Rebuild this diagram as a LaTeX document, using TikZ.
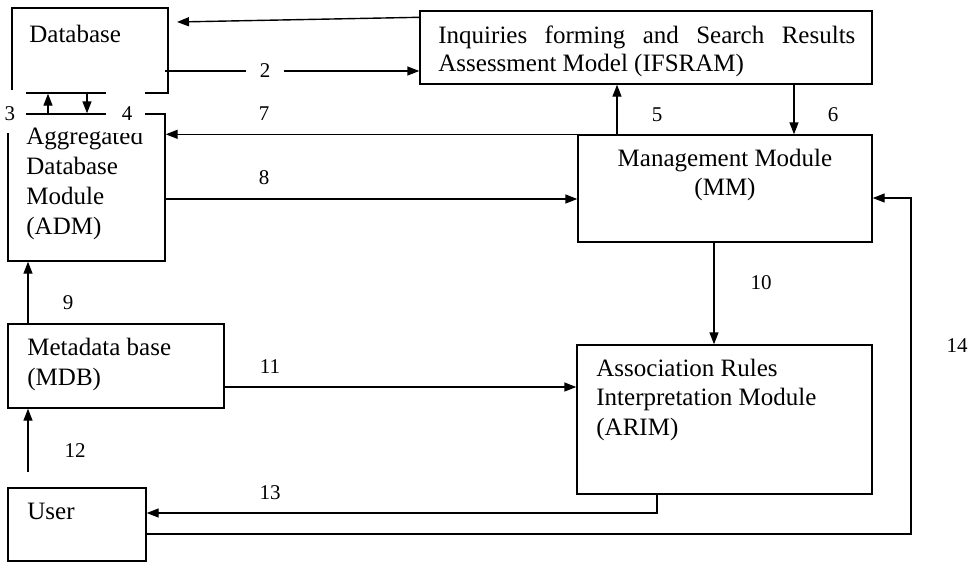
\documentclass[tikz,border=0pt]{standalone}
\usepackage{fontspec}
\setmainfont{Liberation Serif}
\usetikzlibrary{arrows.meta,fit}
\begin{document}
\begin{tikzpicture}[x=0.5pt,y=-0.5pt,
  box/.style={draw, line width=0.7pt, inner sep=0pt},
  txt/.style={inner sep=0pt, anchor=north west, align=left, font=\fontsize{12.5}{15}\selectfont},
  num/.style={inner sep=0pt, font=\fontsize{10.5}{12}\selectfont},
  conn/.style={line width=0.7pt, -{Triangle[length=6pt,width=4.5pt]}},
  plain/.style={line width=0.7pt}]
\useasboundingbox (0,0) rectangle (974,563);

% boxes
\node[box, fit={(12,8) (168,93)}] (db) {};
\node[box, fit={(8,114) (165,261)}] (adm) {};
\node[box, fit={(420,11) (872,84)}] (ifs) {};
\node[box, fit={(578,135) (872,242)}] (mm) {};
\node[box, fit={(8,324) (224,408)}] (mdb) {};
\node[box, fit={(577,345) (872,494)}] (arim) {};
\node[box, fit={(8,488) (146,561)}] (user) {};

% texts
\node[txt] (tdb) at (29,21) {\strut Database};
\node[txt] (tadm) at (26,123) {\strut Aggregated\\Database\\Module\\(ADM)};
\node[txt, font=\fontsize{12.5}{14}\selectfont] (tifs) at (438,23.4)
  {\strut\makebox[208.5pt][s]{Inquiries forming and Search Results}\\Assessment Model (IFSRAM)};
\node[txt, anchor=north, align=center, font=\fontsize{12.5}{14.5}\selectfont] (tmm) at (725,146)
  {\strut Management Module\\(MM)};
\node[txt] (tmdb) at (27,334) {\strut Metadata base\\(MDB)};
\node[txt, font=\fontsize{12.5}{14.75}\selectfont] (tarim) at (596,355)
  {\strut Association Rules\\Interpretation Module\\(ARIM)};
\node[txt] (tuser) at (27,498) {\strut User};

% white patches under labels 3 and 4
\fill[white] (-2,90) rectangle (26,133);
\fill[white] (106,90) rectangle (145,133);

% helper coordinates
\coordinate (a1e) at (177,22);
\coordinate (a2s) at (165,71);
\coordinate (c3) at (48,0);
\coordinate (c4) at (87,0);
\coordinate (c5) at (617,0);
\coordinate (c6) at (794,0);
\coordinate (c8) at (0,199);
\coordinate (c9) at (28,0);
\coordinate (c10) at (714,0);
\coordinate (c11) at (0,387);
\coordinate (a12s) at (28,472);
\coordinate (c13) at (657,513);
\coordinate (c14) at (911,534);
\coordinate (c14b) at (911,198);

% connectors
\draw[conn] ([yshift=-3.5pt]ifs.north west) -- (a1e);
\draw[conn] (a2s) -- (ifs.west |- a2s);
\draw[conn] (adm.north -| c3) -- (db.south -| c3);
\draw[conn] (db.south -| c4) -- (adm.north -| c4);
\draw[conn] (mm.north -| c5) -- (ifs.south -| c5);
\draw[conn] (ifs.south -| c6) -- (mm.north -| c6);
\draw[conn] (mm.north west) -- (adm.east |- mm.north west);
\draw[conn] (adm.east |- c8) -- (mm.west |- c8);
\draw[conn] (mdb.north -| c9) -- (adm.south -| c9);
\draw[conn] (mm.south -| c10) -- (arim.north -| c10);
\draw[conn] (mdb.east |- c11) -- (arim.west |- c11);
\draw[conn] (a12s) -- (mdb.south -| a12s);
\draw[conn] (arim.south -| c13) -- (c13) -- (user.east |- c13);
\draw[conn] (user.east |- c14) -- (c14) -- (c14b) -- (mm.east |- c14b);

% labels
\node[num, fill=white, inner xsep=7pt, inner ysep=1pt] (n2) at (265,71) {2};
\node[num] (n3) at (10,114) {3};
\node[num] (n4) at (127,114) {4};
\node[num] (n5) at (657,115) {5};
\node[num] (n6) at (833,115) {6};
\node[num] (n7) at (264,114) {7};
\node[num] (n8) at (264,178) {8};
\node[num] (n9) at (68,303) {9};
\node[num] (n10) at (761,283) {10};
\node[num] (n11) at (270,367) {11};
\node[num] (n12) at (75,451) {12};
\node[num] (n13) at (270,493) {13};
\node[num] (n14) at (957,346) {14};
\end{tikzpicture}
\end{document}
